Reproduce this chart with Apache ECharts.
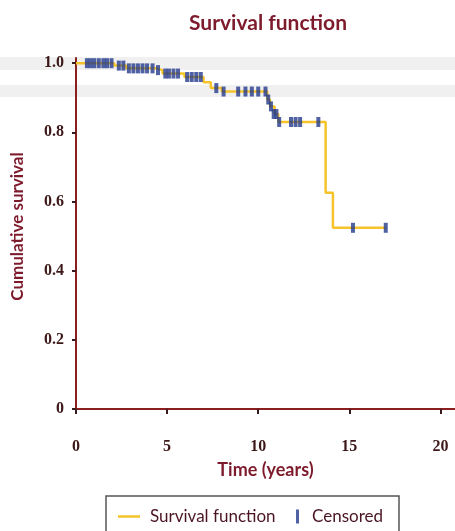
<!DOCTYPE html>
<html><head><meta charset="utf-8">
<script src="https://cdn.jsdelivr.net/npm/echarts@6/dist/echarts.min.js"></script>
<style>html,body{margin:0;padding:0;background:#fff}#c{width:455px;height:531px}</style>
</head><body><div id="c"></div>
<script>
var titleText = 'Survival function';
var xAxisName = 'Time (years)';
var yAxisName = 'Cumulative survival';
var xTicks = [0, 5, 10, 15, 20];
var yTicks = [0, 0.2, 0.4, 0.6, 0.8, 1.0];
var stepTimes = [0, 2.1, 2.75, 4.4, 4.75, 5.95, 7.0, 7.4, 8.0, 10.5, 10.65, 10.9, 11.1, 13.7, 14.1, 17.0];
var stepSurv  = [1.0, 0.993, 0.985, 0.98, 0.97, 0.96, 0.945, 0.928, 0.918, 0.895, 0.875, 0.853, 0.83, 0.625, 0.524, 0.524];
var censorTimes = [0.6, 0.8, 1.0, 1.25, 1.5, 1.7, 1.95, 2.35, 2.6, 2.9, 3.15, 3.4, 3.65, 3.9, 4.2, 4.5, 4.9, 5.1, 5.35, 5.6, 6.1, 6.35, 6.6, 6.85, 7.7, 8.1, 8.9, 9.3, 9.65, 10.0, 10.4, 10.55, 10.7, 10.85, 11.0, 11.15, 11.8, 12.05, 12.3, 13.3, 15.2, 17.0];
var censorSurv  = [1.0, 1.0, 1.0, 1.0, 1.0, 1.0, 1.0, 0.993, 0.993, 0.985, 0.985, 0.985, 0.985, 0.985, 0.985, 0.98, 0.97, 0.97, 0.97, 0.97, 0.96, 0.96, 0.96, 0.96, 0.928, 0.918, 0.918, 0.918, 0.918, 0.918, 0.918, 0.895, 0.875, 0.853, 0.853, 0.83, 0.83, 0.83, 0.83, 0.83, 0.524, 0.524];

var maroon = '#7d1a2c';
var axisRed = '#8a1f1f';
var labelCol = '#3d1818';
var yellow = '#f6c42a';
var blue = '#243b8c';

var stepData = stepTimes.map(function (t, i) { return [t, stepSurv[i]]; });
var censorData = censorTimes.map(function (t, i) { return [t, censorSurv[i]]; });

var chart = echarts.init(document.getElementById('c'));
chart.setOption({
  animation: false,
  backgroundColor: '#fff',
  title: {
    text: titleText, left: 184, top: 8,
    textStyle: { fontFamily: 'Lato', fontWeight: 'bold', fontSize: 21, color: maroon }
  },
  graphic: [
    { type: 'rect', z: -10, shape: { x: 0, y: 57, width: 455, height: 13 }, style: { fill: '#f0f0f0' } },
    { type: 'rect', z: -10, shape: { x: 0, y: 85, width: 455, height: 12 }, style: { fill: '#f0f0f0' } },
    { type: 'rect', z: -5, shape: { x: 106, y: 496, width: 293, height: 40 }, style: { fill: '#fff', stroke: '#555', lineWidth: 1.5 } }
  ],
  legend: [
    {
      data: [{ name: 'Survival function' }], left: 113, top: 503,
      icon: 'rect', itemWidth: 22, itemHeight: 2.5, itemGap: 8,
      textStyle: { fontFamily: 'Lato', fontSize: 17, color: '#4a1522', padding: [0, 0, 0, 5] }
    },
    {
      data: [{ name: 'Censored' }], left: 291, top: 503,
      icon: 'rect', itemWidth: 3, itemHeight: 14,
      textStyle: { fontFamily: 'Lato', fontSize: 17, color: '#4a1522', padding: [0, 0, 0, 8] }
    }
  ],
  grid: { left: 76, right: 0, top: 58, bottom: 122, containLabel: false },
  xAxis: {
    type: 'value', min: 0, max: 20.8,
    name: xAxisName, nameLocation: 'middle', nameGap: 52,
    nameTextStyle: { fontFamily: 'Lato', fontWeight: 'bold', fontSize: 18, color: maroon },
    axisLine: { show: true, onZero: false, lineStyle: { color: axisRed, width: 2 } },
    axisTick: { show: true, length: 5, customValues: xTicks, lineStyle: { color: '#3a1a1a', width: 2 } },
    axisLabel: { customValues: xTicks, margin: 30, fontFamily: 'Liberation Serif', fontWeight: 'bold', fontSize: 16, color: labelCol },
    splitLine: { show: false }
  },
  yAxis: {
    type: 'value', min: 0, max: 1.015,
    name: yAxisName, nameLocation: 'middle', nameGap: 50, nameRotate: 90,
    nameTextStyle: { fontFamily: 'Lato', fontWeight: 'bold', fontSize: 17, color: maroon, padding: [0, 0, 0, 14] },
    axisLine: { show: true, onZero: false, lineStyle: { color: axisRed, width: 2 } },
    axisTick: { show: true, length: 4, customValues: yTicks, lineStyle: { color: '#3a1a1a', width: 2 } },
    axisLabel: {
      customValues: yTicks, margin: 12, fontFamily: 'Liberation Serif', fontWeight: 'bold', fontSize: 16, color: labelCol,
      formatter: function (v) { return v === 0 ? '0' : v.toFixed(1); }
    },
    splitLine: { show: false }
  },
  series: [
    {
      name: 'Survival function', type: 'line', step: 'end', data: stepData,
      showSymbol: false, symbol: 'none',
      lineStyle: { color: yellow, width: 2.5 }, itemStyle: { color: yellow }, z: 2
    },
    {
      name: 'Censored', type: 'scatter', data: censorData,
      symbol: 'rect', symbolSize: [4, 10],
      itemStyle: { color: blue }, z: 3
    }
  ]
});
</script>
</body></html>
